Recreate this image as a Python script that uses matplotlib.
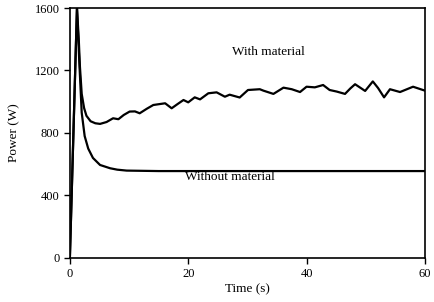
import numpy as np
import matplotlib.pyplot as plt

plt.rcParams['font.family'] = ['Liberation Serif', 'DejaVu Serif']

# with material (time s, power W)
t_with = [0, 1.2, 1.5, 1.7, 2.0, 2.4, 2.8, 3.5, 4.3, 5.1, 6.2, 7.3, 8.2, 9.1, 10.1, 11.0,
          11.8, 13.0, 14.1, 16.1, 17.2, 18.2, 19.2, 20.0, 21.1, 22.0, 23.4, 24.8, 26.2,
          27.0, 28.7, 30.1, 32.1, 32.7, 34.4, 36.1, 37.5, 38.9, 40.0, 41.4, 42.8, 43.9,
          45.1, 46.5, 47.4, 48.2, 49.9, 51.2, 52.1, 53.1, 54.1, 55.8, 58.0, 60.0]
p_with = [0, 1600, 1400, 1224, 1050, 960, 910, 875, 862, 858, 870, 894, 888, 915, 937,
          938, 926, 955, 979, 990, 958, 985, 1011, 996, 1028, 1015, 1054, 1060, 1032,
          1045, 1027, 1075, 1080, 1071, 1050, 1090, 1080, 1062, 1096, 1092, 1107, 1075,
          1065, 1050, 1085, 1112, 1069, 1130, 1087, 1028, 1080, 1062, 1096, 1071]

# without material
t_without = [0, 1.2, 1.6, 2.0, 2.5, 3.1, 3.9, 5.1, 6.8, 8.0, 9.6, 15, 30, 45, 60]
p_without = [0, 1600, 1250, 930, 780, 700, 640, 595, 574, 565, 559, 556, 556, 556, 556]

fig = plt.figure(figsize=(4.34, 3.02), dpi=100)
ax = fig.add_axes([0.161, 0.146, 0.818, 0.8275])

ax.plot(t_with, p_with, color='black', lw=1.6)
ax.plot(t_without, p_without, color='black', lw=1.6)

ax.set_xlim(0, 60)
ax.set_ylim(0, 1600)
ax.set_xticks([0, 20, 40, 60])
ax.set_yticks([0, 400, 800, 1200, 1600])
ax.tick_params(direction='out', length=4, width=1, labelsize=9)
for s in ax.spines.values():
    s.set_linewidth(1.2)

ax.set_xlabel('Time (s)', fontsize=9.5, labelpad=2)
ax.set_ylabel('Power (W)', fontsize=9.5, labelpad=10)

ax.text(33.5, 1320, 'With material', fontsize=9.5, ha='center', va='center')
ax.text(27, 520, 'Without material', fontsize=9.5, ha='center', va='center')

fig.savefig('out.png', dpi=100)
